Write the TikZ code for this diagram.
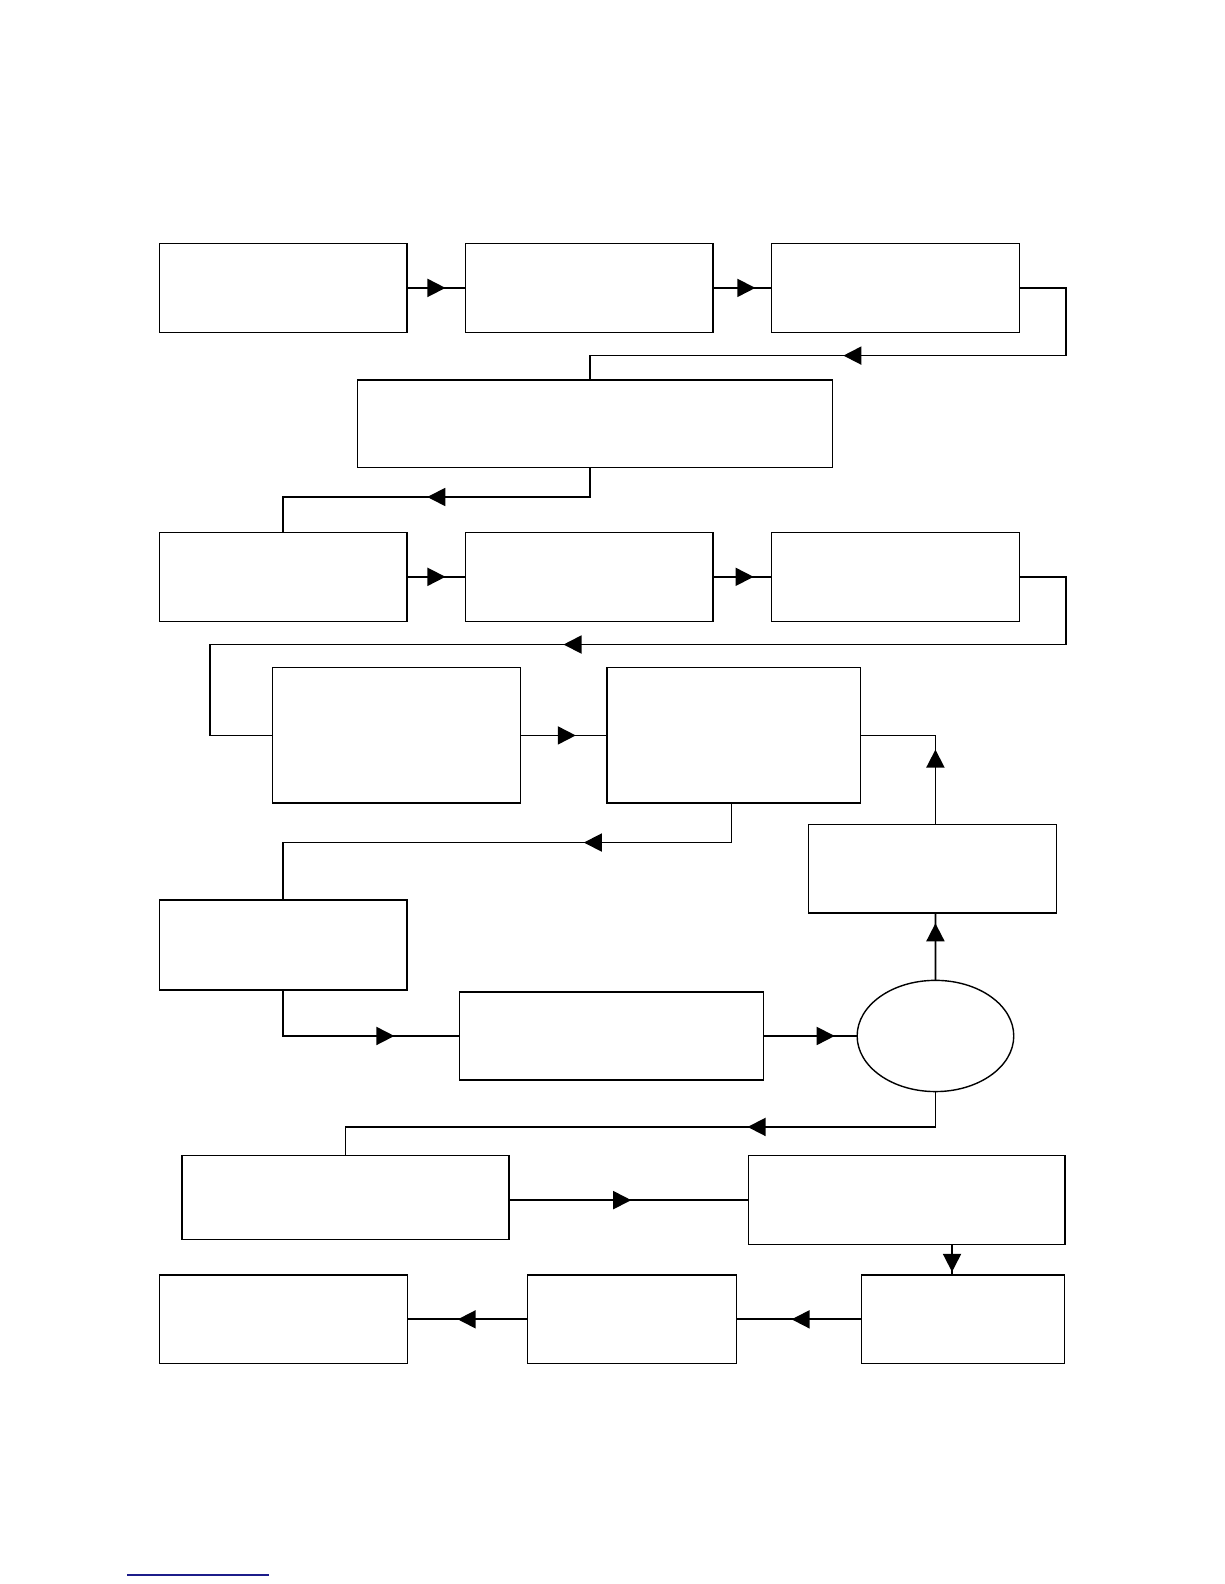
\documentclass[tikz,border=0pt]{standalone}
\usetikzlibrary{arrows.meta, positioning, shapes.geometric, decorations.markings}
\definecolor{flowBlack}{HTML}{000000}
\definecolor{noteBlue}{HTML}{1C1C8A}
\tikzset{
  blk/.style={rectangle, draw=flowBlack, fill=white, line width=0.7pt,
              inner sep=0pt, outer sep=0pt},
  sz/.style 2 args={minimum width=#1, minimum height=#2},
  decn/.style={ellipse, draw=flowBlack, fill=white, line width=0.7pt,
               inner sep=0pt, outer sep=0pt, minimum width=78.3pt, minimum height=55.6pt},
  conn/.style={flowBlack, line width=0.9pt},
  tipAt/.style={postaction={decorate},
                decoration={markings, mark=at position #1 with {\arrow{Triangle[length=9pt, width=9pt]}}}},
}
\begin{document}
\begin{tikzpicture}[x=0.505pt, y=-0.505pt, node distance=29.3pt]
  \useasboundingbox (0,0) rectangle (1212,1568);
  % first row
  \node[blk, sz={123.7pt}{44.4pt}] (n1) at (280.5,285) {};
  \node[blk, sz={123.7pt}{44.4pt}, right=of n1] (n2) {};
  \node[blk, sz={123.7pt}{44.4pt}, right=of n2] (n3) {};
  \node[blk, sz={237.4pt}{43.9pt}] (n4) at (589,419.5) {};
  % second row
  \node[blk, sz={123.7pt}{44.4pt}] (n5) at (280.5,571) {};
  \node[blk, sz={123.7pt}{44.4pt}, right=of n5] (n6) {};
  \node[blk, sz={123.7pt}{44.4pt}, right=of n6] (n7) {};
  \node[blk, sz={123.7pt}{67.7pt}] (n8) at (392.5,728) {};
  \node[blk, sz={126.8pt}{67.7pt}, right=43.4pt of n8] (n9) {};
  \node[blk, sz={124.2pt}{44.4pt}] (n10) at (923,860) {};
  \node[blk, sz={123.7pt}{44.9pt}] (n11) at (280.5,935.5) {};
  \node[blk, sz={152.0pt}{43.9pt}] (n12) at (605.5,1025.5) {};
  \node[decn] (dec) at (926,1025.5) {};
  % bottom rows
  \node[blk, sz={163.6pt}{41.9pt}] (n13) at (342,1185.5) {};
  \node[blk, sz={158.1pt}{44.4pt}] (n14) at (897.5,1188) {};
  \node[blk, sz={101.5pt}{44.4pt}] (n15) at (953.5,1306) {};
  \node[blk, sz={104.5pt}{44.4pt}, left=62.6pt of n15] (n16) {};
  \node[blk, sz={123.7pt}{44.4pt}, left=60.1pt of n16] (n17) {};
  \coordinate (n4in) at ([xshift=-2.5pt]n4.north);
  \coordinate (n4out) at ([xshift=-2.5pt]n4.south);
  \coordinate (n9out) at ([xshift=-1.2pt]n9.south);
  \coordinate (n10in) at ([xshift=1.5pt]n10.south);
  \coordinate (n10out) at ([xshift=1.5pt]n10.north);
  \coordinate (drop) at ([xshift=-5.6pt]n15.north);

  \draw[conn, tipAt=0.655] (n1) -- (n2);
  \draw[conn, tipAt=0.72] (n2) -- (n3);
  \draw[conn, tipAt=168.2pt] (n3.east) -- ++(46,0) -- ++(0,67) -| (n4in);
  \draw[conn, tipAt=96pt] (n4out) -- ++(0,29) -| (n5.north);
  \draw[conn, tipAt=0.655] (n5) -- (n6);
  \draw[conn, tipAt=0.69] (n6) -- (n7);
  \draw[conn, tipAt=308.1pt] (n7.east) -- ++(46,0) -- ++(0,67)
    -| ([xshift=-31.3pt]n8.west) -- (n8.west);
  \draw[conn, tipAt=0.64] (n8) -- (n9);
  \draw[conn, tipAt=37.4pt] (n10out) |- (n9.east);
  \draw[conn, tipAt=93.5pt] (n9out) -- ++(0,39) -| (n11.north);
  \draw[conn, tipAt=78.5pt] (n11.south) |- (n12.west);
  \draw[conn, tipAt=0.76] (n12.east) -- (dec.west);
  \draw[conn, tipAt=0.85] (dec.north) -- (n10in);
  \draw[conn, tipAt=111.6pt] (dec.south) -- ++(0,35) -| (n13.north);
  \draw[conn, tipAt=0.51] (n13.east |- n14.west) -- (n14.west);
  \draw[conn, tipAt=0.9] (drop |- n14.south) -- (drop);
  \draw[conn, tipAt=0.56] (n15) -- (n16);
  \draw[conn, tipAt=0.58] (n16) -- (n17);

  \draw[noteBlue, line width=0.8pt] (126,1559) -- (266,1559);
\end{tikzpicture}
\end{document}
